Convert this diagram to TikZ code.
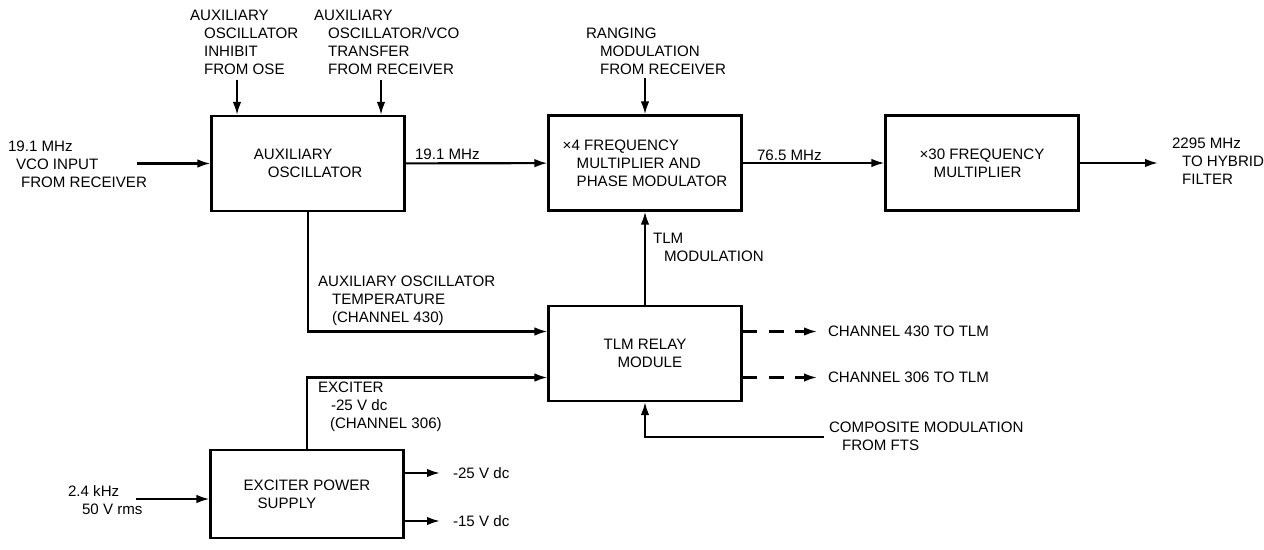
\documentclass[tikz,border=0pt]{standalone}
\usepackage{fontspec}
\setmainfont{Liberation Sans}
\usetikzlibrary{calc, arrows.meta}
\newcommand\lind{\hspace*{0.28cm}}

\begin{document}
\begin{tikzpicture}[x=0.02cm, y=-0.02cm, line width=1.2pt,
  font=\fontsize{8.6}{10.3}\selectfont,
  box/.style={draw, rectangle, inner sep=0pt, minimum width=3.86cm,
    minimum height=1.9cm, align=left},
  lbl/.style={anchor=west, inner sep=0pt, align=left},
  arr/.style={-{Latex[length=2.6mm, width=1.7mm]}},
  dasharr/.style={arr, dash pattern=on 8.5pt off 6.5pt}]
  \useasboundingbox (0,0) rectangle (1264,550);
  % blocks
  \node[box] (aux)    at (308, 163.5) {AUXILIARY\\\lind OSCILLATOR};
  \node[box] (mult4)  at (645, 163)   {×4 FREQUENCY\\\lind MULTIPLIER AND\\\lind PHASE MODULATOR};
  \node[box] (mult30) at (982, 163)   {×30 FREQUENCY\\\lind MULTIPLIER};
  \node[box] (relay)  at (645, 353.5) {TLM RELAY\\\lind MODULE};
  \node[box, minimum height=1.76cm] (eps) at (307, 494) {EXCITER POWER\\\lind SUPPLY};
  % loose ends
  \coordinate (vcoin) at (137, 163.5);
  \coordinate (inh)   at (237, 80);
  \coordinate (xfer)  at (381, 80);
  \coordinate (rng)   at (645, 78);
  \coordinate (out)   at (1158, 163);
  \coordinate (r430)  at ($(relay.west)+(0,-22)$);
  \coordinate (r306)  at ($(relay.west)+(0,24)$);
  \coordinate (o430)  at (817, 331.5);
  \coordinate (o306)  at (817, 377.5);
  \coordinate (fts)   at (824, 437);
  \coordinate (ac)    at (136, 499);
  \coordinate (m25)   at (440, 473);
  \coordinate (m15)   at (440, 521);
  % connectors
  \draw[arr] (vcoin) -- (vcoin -| aux.west);
  \draw[arr] (inh) -- (inh |- aux.north);
  \draw[arr] (xfer) -- (xfer |- aux.north);
  \draw[arr] (aux) -- (mult4);
  \draw[arr] (rng) -- (mult4.north);
  \draw[arr] (mult4) -- (mult30);
  \draw[arr] (mult30.east) -- (out);
  \draw[arr] (relay.north) -- (mult4.south);
  \draw[arr] (aux.south) |- (r430);
  \draw[arr] (eps.north) |- (r306);
  \draw[dasharr] (r430 -| relay.east) -- (o430);
  \draw[dasharr] (r306 -| relay.east) -- (o306);
  \draw[arr] (fts) -| (relay.south);
  \draw[arr] (ac) -- (ac -| eps.west);
  \draw[arr] (m25 -| eps.east) -- (m25);
  \draw[arr] (m15 -| eps.east) -- (m15);
  % labels
  \node[lbl] (linh)  at (189, 42.5) {AUXILIARY\\\lind OSCILLATOR\\\lind INHIBIT\\\lind FROM OSE};
  \node[lbl] (lxfer) at (313, 42.5) {AUXILIARY\\\lind OSCILLATOR/VCO\\\lind TRANSFER\\\lind FROM RECEIVER};
  \node[lbl] (lvco)  at (7, 164)    {19.1 MHz\\\hspace*{0.16cm}VCO INPUT\\\hspace*{0.26cm}FROM RECEIVER};
  \node[lbl] (lf19)  at (414, 154)  {19.1 MHz};
  \node[lbl] (lrng)  at (585, 51)   {RANGING\\\lind MODULATION\\\lind FROM RECEIVER};
  \node[lbl] (lf76)  at (756, 155)  {76.5 MHz};
  \node[lbl] (lout)  at (1171, 161) {2295 MHz\\\hspace*{0.2cm}TO HYBRID\\\hspace*{0.2cm}FILTER};
  \node[lbl] (ltlm)  at (652, 247)  {TLM\\\hspace*{0.22cm}MODULATION};
  \node[lbl] (ltemp) at (317, 301)  {AUXILIARY OSCILLATOR\\\lind TEMPERATURE\\\lind (CHANNEL 430)};
  \node[lbl] (l430)  at (827, 331.5) {CHANNEL 430 TO TLM};
  \node[lbl] (l306)  at (827, 377.5) {CHANNEL 306 TO TLM};
  \node[lbl] (lexc)  at (317, 407)  {EXCITER\\\hspace*{0.26cm}-25 V dc\\\hspace*{0.24cm}(CHANNEL 306)};
  \node[lbl] (lfts)  at (828, 436)  {COMPOSITE MODULATION\\\hspace*{0.26cm}FROM FTS};
  \node[lbl] (lac)   at (67, 500)   {2.4 kHz\\\lind 50 V rms};
  \node[lbl] (l25)   at (452, 473)  {-25 V dc};
  \node[lbl] (l15)   at (452, 521)  {-15 V dc};
\end{tikzpicture}
\end{document}
